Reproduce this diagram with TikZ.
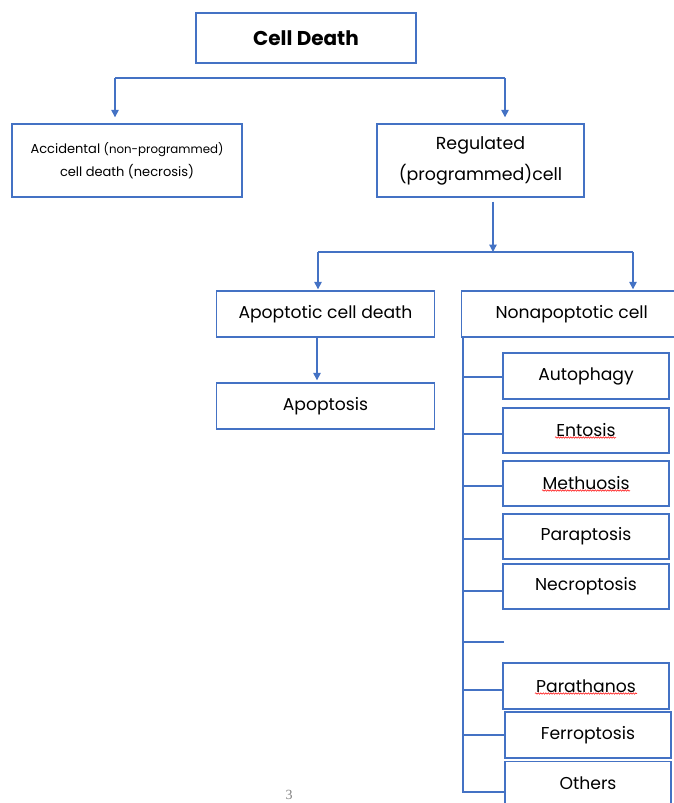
\documentclass[tikz,border=0pt]{standalone}
\usepackage{fontspec}
\setmainfont{Poppins}
\newfontfamily\pagefont{Liberation Serif}
\usetikzlibrary{arrows.meta,decorations.pathmorphing}
\definecolor{bl}{HTML}{4472C4}
\begin{document}
\begin{tikzpicture}[x=1pt,y=-1pt,
  box/.style={draw=bl,line width=1.4pt,inner sep=0pt,align=center,font=\fontsize{17.2}{20}\selectfont},
  conn/.style={draw=bl,line width=1.4pt},
  arr/.style={conn,-{Triangle[width=7.5pt,length=7.5pt]}},
  wavy/.style={draw=red,line width=0.5pt,decorate,decoration={snake,amplitude=0.7pt,segment length=2.5pt}}]
\useasboundingbox (0,0) rectangle (674,803);
\clip (0,0) rectangle (674,803);
% top level
\node[box,minimum width=220pt,minimum height=50pt,font=\fontsize{20}{24}\selectfont\bfseries] (cd) at (306,38) {Cell Death};
\node[box,minimum width=230pt,minimum height=73pt,font=\fontsize{13}{23}\selectfont] (acc) at (127,160.5)
  {Accidental {\fontsize{11.8}{23}\selectfont(non-programmed)}\\cell death (necrosis)};
\node[box,minimum width=207pt,minimum height=73pt,font=\fontsize{17.4}{31}\selectfont] (reg) at (480.5,160.5)
  {Regulated\\(programmed)cell};
\coordinate (b1) at (115,78);
\coordinate (b2) at (505,78);
\draw[conn] (b1) -- (b2);
\draw[arr,shorten >=6pt] (b1) -- (b1 |- acc.north);
\draw[arr,shorten >=6pt] (b2) -- (b2 |- reg.north);
% second level
\node[box,minimum width=218pt,minimum height=46pt] (apt) at (325.5,314) {Apoptotic cell death};
\node[box,minimum width=220pt,minimum height=46pt,anchor=west] (non) at (461,314) {Nonapoptotic cell};
\coordinate (b3) at (493,252);
\coordinate (b4) at (318,252);
\coordinate (b5) at (633,252);
\draw[arr,shorten <=4pt] (b3 |- reg.south) -- (b3);
\draw[conn] (b4) -- (b5);
\draw[arr,shorten >=1pt] (b4) -- (b4 |- apt.north);
\draw[arr,shorten >=1pt] (b5) -- (b5 |- non.north);
\node[box,minimum width=218pt,minimum height=46pt] (aps) at (325.5,406) {Apoptosis};
\draw[arr,shorten >=2pt] (apt.south -| 317,0) -- (aps.north -| 317,0);
% nonapoptotic children
\node[box,minimum width=166pt,minimum height=46pt] (aut) at (586,376) {Autophagy};
\node[box,minimum width=166pt,minimum height=45pt] (ent) at (586,430.5) {Entosis};
\node[box,minimum width=166pt,minimum height=45pt] (met) at (586,483.5) {Methuosis};
\node[box,minimum width=166pt,minimum height=45pt] (par) at (586,536.5) {Paraptosis};
\node[box,minimum width=166pt,minimum height=45pt] (nec) at (586,586.5) {Necroptosis};
\node[box,minimum width=166pt,minimum height=46pt] (pth) at (586,686) {Parathanos};
\node[box,minimum width=166pt,minimum height=46pt] (fer) at (588,735) {Ferroptosis};
\node[box,minimum width=166pt,minimum height=44pt,anchor=north] (oth) at (588,761) {Others};
% spine and branches
\coordinate (sp) at (463,337);
\coordinate (spe) at (463,792);
\coordinate (stub) at (504,642);
\draw[conn] (sp) -- (spe) -- (spe -| oth.west);
\draw[conn] (aut.west |- 0,377) -- (sp |- 0,377);
\draw[conn] (ent.west |- 0,434) -- (sp |- 0,434);
\draw[conn] (met.west |- 0,486) -- (sp |- 0,486);
\draw[conn] (par.west |- 0,539) -- (sp |- 0,539);
\draw[conn] (nec.west |- 0,591) -- (sp |- 0,591);
\draw[conn] (stub) -- (stub -| sp);
\draw[conn] (pth.west |- 0,690) -- (sp |- 0,690);
\draw[conn] (fer.west |- 0,735) -- (sp |- 0,735);
% spell-check marks
\draw[wavy] ([shift={(-31,7)}]ent.center) -- ([shift={(30,7)}]ent.center);
\draw[wavy] ([shift={(-44,7)}]met.center) -- ([shift={(44,7)}]met.center);
\draw[wavy] ([shift={(-51,7.5)}]pth.center) -- ([shift={(51,7.5)}]pth.center);
% page number
\node[font=\pagefont\fontsize{14}{16}\selectfont,text=gray,inner sep=0pt] (pg) at (289,795) {3};
\end{tikzpicture}
\end{document}
